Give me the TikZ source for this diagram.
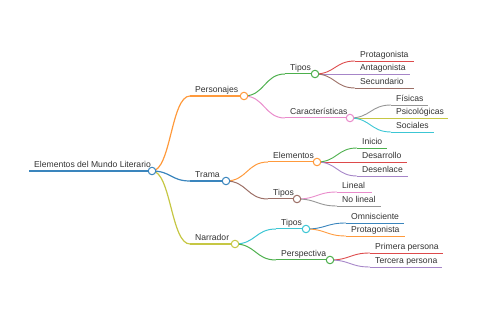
\documentclass[tikz,border=0pt]{standalone}
\usepackage{fontspec}
\setmainfont{Liberation Sans}
\usetikzlibrary{calc}
\definecolor{cblue}{HTML}{3A85BD}
\definecolor{corange}{HTML}{FF9A3C}
\definecolor{cgreen}{HTML}{4CAF4C}
\definecolor{cred}{HTML}{DD4A4B}
\definecolor{cpurple}{HTML}{A685C8}
\definecolor{cbrown}{HTML}{9C6F66}
\definecolor{cpink}{HTML}{E98BCB}
\definecolor{cgray}{HTML}{959595}
\definecolor{colive}{HTML}{C6C744}
\definecolor{ccyan}{HTML}{3CC6D4}
\definecolor{txt}{HTML}{333333}
\tikzset{
  lbl/.style={inner sep=0pt, text=txt, font=\fontsize{8.6}{10}\selectfont, anchor=base west},
  mmdot/.style={circle, fill=white, line width=1pt, minimum size=7.5pt, inner sep=0pt},
}
% name, colour, x0, x1, y, label, line width
\newcommand{\mmnode}[7]{%
  \coordinate (#1s) at (#3,#5);
  \coordinate (#1e) at (#4,#5);
  \draw[draw=#2, line width=#7] (#1s) -- (#1e);
  \node[lbl] (#1t) at ([xshift=5pt, yshift=3.6pt]#1s) {#6};
}
% parent, child, colour, line width
\newcommand{\mmlink}[4]{%
  \coordinate (#1#2m) at ($(#1e)!0.5!(#2s)$);
  \draw[draw=#3, line width=#4] (#1e) .. controls (#1#2m |- #1e) and (#1#2m |- #2s) .. (#2s);
}
\newcommand{\mmcirc}[2]{\node[mmdot, draw=#2] (#1c) at (#1e) {};}
\begin{document}
\begin{tikzpicture}[x=1pt, y=-1pt]
\useasboundingbox (0,0) rectangle (480,320);
% root
\mmnode{root}{cblue}{29}{152}{171}{Elementos del Mundo Literario}{1.5pt}
% level 1
\mmnode{per}{corange}{190}{244}{96}{Personajes}{1.2pt}
\mmnode{tra}{cblue}{190}{226}{181}{Trama}{1.2pt}
\mmnode{nar}{colive}{190}{235}{244}{Narrador}{1.2pt}
\mmlink{root}{per}{corange}{1.2pt}
\mmlink{root}{tra}{cblue}{1.2pt}
\mmlink{root}{nar}{colive}{1.2pt}
% level 2
\mmnode{pti}{cgreen}{285}{315}{74}{Tipos}{1pt}
\mmnode{pca}{cpink}{285}{350}{118}{Características}{1pt}
\mmlink{per}{pti}{cgreen}{1pt}
\mmlink{per}{pca}{cpink}{1pt}
\mmnode{tel}{corange}{268}{317}{162}{Elementos}{1pt}
\mmnode{tti}{cbrown}{268}{297}{199}{Tipos}{1pt}
\mmlink{tra}{tel}{corange}{1pt}
\mmlink{tra}{tti}{cbrown}{1pt}
\mmnode{nti}{ccyan}{276}{306}{229}{Tipos}{1pt}
\mmnode{npe}{cgreen}{276}{330}{260}{Perspectiva}{1pt}
\mmlink{nar}{nti}{ccyan}{1pt}
\mmlink{nar}{npe}{cgreen}{1pt}
% level 3
\mmnode{a1}{cred}{355}{414}{61}{Protagonista}{0.9pt}
\mmnode{a2}{cpurple}{355}{410}{74}{Antagonista}{0.9pt}
\mmnode{a3}{cbrown}{355}{414}{88}{Secundario}{0.9pt}
\mmlink{pti}{a1}{cred}{0.9pt}
\mmlink{pti}{a2}{cpurple}{0.9pt}
\mmlink{pti}{a3}{cbrown}{0.9pt}
\mmnode{b1}{cgray}{391}{428}{105}{Físicas}{0.9pt}
\mmnode{b2}{colive}{391}{448}{118}{Psicológicas}{0.9pt}
\mmnode{b3}{ccyan}{391}{434}{132}{Sociales}{0.9pt}
\mmlink{pca}{b1}{cgray}{0.9pt}
\mmlink{pca}{b2}{colive}{0.9pt}
\mmlink{pca}{b3}{ccyan}{0.9pt}
\mmnode{c1}{cgreen}{357}{387}{148}{Inicio}{0.9pt}
\mmnode{c2}{cred}{357}{407}{162}{Desarrollo}{0.9pt}
\mmnode{c3}{cpurple}{357}{408}{176}{Desenlace}{0.9pt}
\mmlink{tel}{c1}{cgreen}{0.9pt}
\mmlink{tel}{c2}{cred}{0.9pt}
\mmlink{tel}{c3}{cpurple}{0.9pt}
\mmnode{d1}{cpink}{337}{372}{192}{Lineal}{0.9pt}
\mmnode{d2}{cgray}{337}{381}{206}{No lineal}{0.9pt}
\mmlink{tti}{d1}{cpink}{0.9pt}
\mmlink{tti}{d2}{cgray}{0.9pt}
\mmnode{e1}{cblue}{346}{404}{223}{Omnisciente}{0.9pt}
\mmnode{e2}{corange}{346}{405}{236}{Protagonista}{0.9pt}
\mmlink{nti}{e1}{cblue}{0.9pt}
\mmlink{nti}{e2}{corange}{0.9pt}
\mmnode{f1}{cred}{370}{443}{253}{Primera persona}{0.9pt}
\mmnode{f2}{cpurple}{370}{442}{267}{Tercera persona}{0.9pt}
\mmlink{npe}{f1}{cred}{0.9pt}
\mmlink{npe}{f2}{cpurple}{0.9pt}
% circles
\mmcirc{root}{cblue}
\mmcirc{per}{corange}
\mmcirc{tra}{cblue}
\mmcirc{nar}{colive}
\mmcirc{pti}{cgreen}
\mmcirc{pca}{cpink}
\mmcirc{tel}{corange}
\mmcirc{tti}{cbrown}
\mmcirc{nti}{ccyan}
\mmcirc{npe}{cgreen}
\end{tikzpicture}
\end{document}
